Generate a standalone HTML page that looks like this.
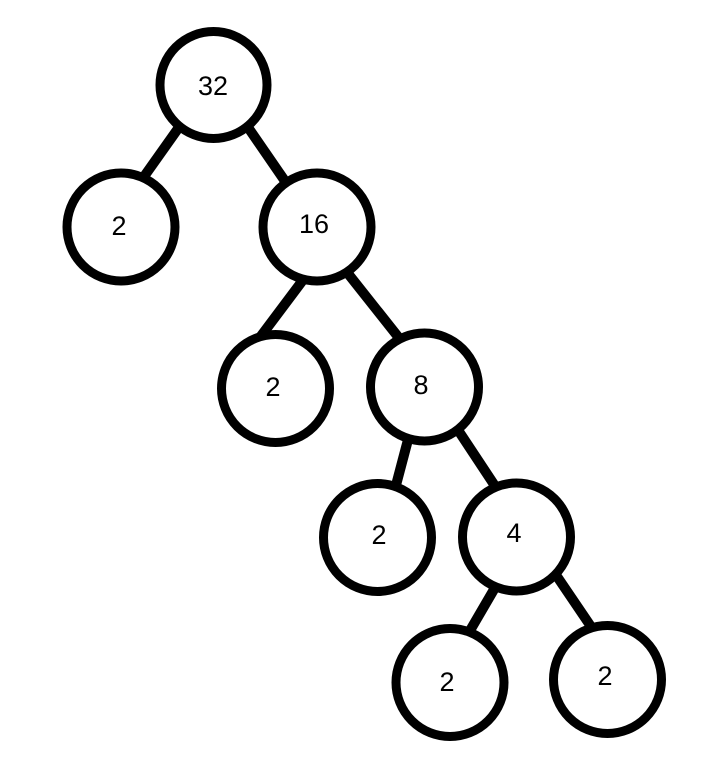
<!DOCTYPE html>
<html><head><meta charset="utf-8"><style>
html,body{margin:0;padding:0;background:#fff;}
svg{display:block;}
text{font-family:"Liberation Sans",sans-serif;font-size:27px;fill:#000;text-anchor:middle;dominant-baseline:central;}
</style></head><body>
<svg width="708" height="778" viewBox="0 0 708 778">
<g stroke="#000" stroke-width="10" stroke-linecap="butt">
<line x1="182" y1="123" x2="143" y2="178"/>
<line x1="245" y1="123" x2="287" y2="184"/>
<line x1="306" y1="276" x2="261" y2="336"/>
<line x1="342" y1="266" x2="403" y2="343"/>
<line x1="409" y1="436" x2="395" y2="489"/>
<line x1="456" y1="427" x2="497" y2="489"/>
<line x1="496" y1="586" x2="468" y2="634"/>
<line x1="554" y1="572" x2="594" y2="631"/>
</g>
<g fill="#fff" stroke="#000" stroke-width="9">
<circle cx="213.5" cy="85" r="53.5"/>
<circle cx="121" cy="227" r="54"/>
<circle cx="317" cy="227" r="54"/>
<circle cx="275.5" cy="388.5" r="54"/>
<circle cx="424.5" cy="387" r="54"/>
<circle cx="377.5" cy="537.5" r="54"/>
<circle cx="516.5" cy="537" r="54"/>
<circle cx="450" cy="682.5" r="54"/>
<circle cx="607.5" cy="679.5" r="54"/>
</g>
<text x="213" y="86">32</text>
<text x="119" y="226">2</text>
<text x="314" y="224">16</text>
<text x="273" y="387">2</text>
<text x="421" y="385">8</text>
<text x="379" y="535">2</text>
<text x="514" y="533">4</text>
<text x="447" y="682">2</text>
<text x="605" y="676">2</text>
</svg>
</body></html>
